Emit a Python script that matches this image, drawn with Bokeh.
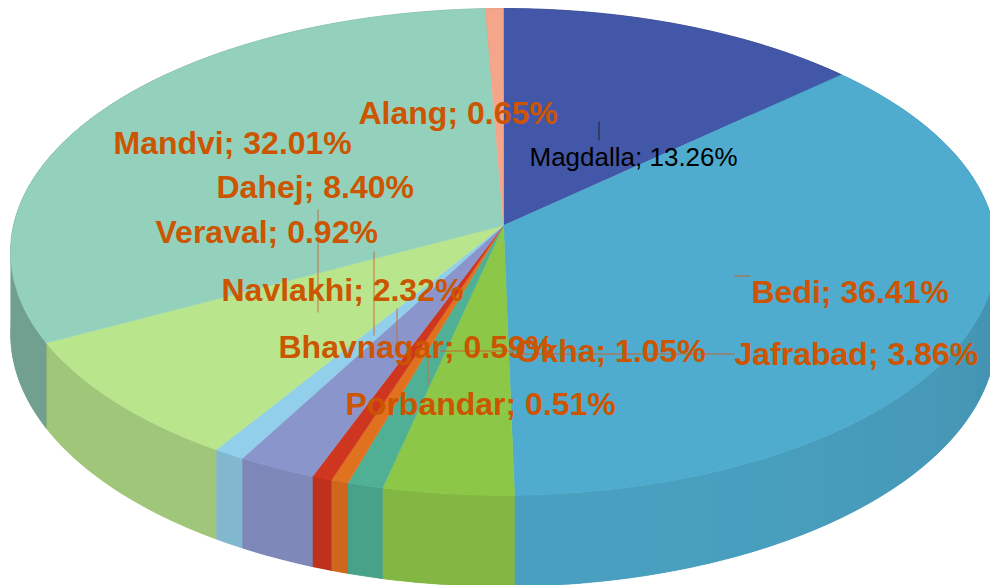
import math
from bokeh.plotting import figure
from bokeh.models import Range1d
from bokeh.core.properties import value
from bokeh.embed import file_html
from bokeh.resources import INLINE

names = ["Magdalla", "Bedi", "Jafrabad", "Okha", "Porbandar", "Bhavnagar", "Navlakhi", "Veraval", "Dahej", "Mandvi", "Alang"]
shares = [13.26, 36.41, 3.86, 1.05, 0.51, 0.59, 2.32, 0.92, 8.40, 32.01, 0.65]
colors = ["#4357A8", "#4FACCE", "#8DC748", "#4FB095", "#E0711E", "#CF361F", "#8A95CB", "#91CFEA", "#B9E58C", "#93D1BC", "#F4A58A"]

# text layout: left x, centre y
label_x = [529, 751, 734, 515, 345, 278, 221, 155, 216, 113, 358]
label_y = [156, 291, 353, 350, 403, 346, 289, 231, 186, 142, 112]
BLACK_LABEL = "Magdalla"

# leader lines: (x0, y0, x1, y1)
leaders = [
    (598.5, 121, 598.5, 140, "#222222"),
    (734, 275.5, 750, 275.5, "#C8622A"),
    (515, 353.5, 734, 353.5, "#C8622A"),
    (440, 350.5, 515, 350.5, "#C8622A"),
    (427.5, 358, 427.5, 385, "#C8703A"),
    (396.5, 308, 396.5, 345, "#C8703A"),
    (373.5, 251, 373.5, 335, "#C8703A"),
    (317.5, 209, 317.5, 312, "#C8703A"),
]

# projection of the tilted disc
CX, CY, A, B, K, DEPTH = 503.0, 225.0, 490.0, 240.6, 0.1088, 81.0


def project(theta, drop=0.0):
    u, v = math.sin(theta), -math.cos(theta)
    w = 1 - K * v
    return CX + A * u / w, CY + (B * v + drop) / w


def factor(deg):
    d = deg - 180
    if d < 0:
        return 0.93 - 0.06 * (d / 70) ** 2
    if d < 25:
        return 0.92
    if d < 35:
        return 0.92 - 0.055 * (d - 25) / 10
    if d < 62:
        return 0.865
    return 0.77


def shade(hex_color, deg):
    f = factor(deg)
    rgb = [int(hex_color[i:i + 2], 16) for i in (1, 3, 5)]
    return "#%02x%02x%02x" % tuple(min(255, int(c * f)) for c in rgb)


total = sum(shares)
edges = [0.0]
for s in shares:
    edges.append(edges[-1] + s / total * 2 * math.pi)

p = figure(width=990, height=585, output_backend="svg", toolbar_location=None,
           x_range=Range1d(0, 990), y_range=Range1d(585, 0), min_border=0,
           outline_line_color=None, background_fill_color="white", border_fill_color="white")
p.xaxis.visible = False
p.yaxis.visible = False
p.grid.visible = False


def wall(a, b):
    n = max(2, int((b - a) / math.radians(1)))
    ts = [a + (b - a) * j / n for j in range(n + 1)]
    pts = [project(t) for t in ts] + [project(t, DEPTH) for t in reversed(ts)]
    return [q[0] for q in pts], [q[1] for q in pts]


# base wall per slice
bx, by, bc = [], [], []
for i, col in enumerate(colors):
    x, y = wall(edges[i], edges[i + 1])
    bx.append(x)
    by.append(y)
    bc.append(shade(col, math.degrees((edges[i] + edges[i + 1]) / 2)))
p.patches(bx, by, fill_color=bc, line_color=bc, line_width=0.5)

# shaded facets over the base, overlapping a little so no seams show
STEP = math.radians(5)
wx, wy, wc = [], [], []
for i, col in enumerate(colors):
    a = edges[i]
    while a < edges[i + 1] - 1e-9:
        b = min(a + STEP, edges[i + 1])
        deg = math.degrees((a + b) / 2)
        if 60 < deg < 310:
            x, y = wall(a, min(b + math.radians(0.5), edges[i + 1]))
            wx.append(x)
            wy.append(y)
            wc.append(shade(col, deg))
        a = b
p.patches(wx, wy, fill_color=wc, line_color=None)

# top surface
sx, sy = [], []
for i in range(len(shares)):
    n = max(3, int((edges[i + 1] - edges[i]) / math.radians(1.5)))
    pts = [(CX, CY)] + [project(edges[i] + (edges[i + 1] - edges[i]) * j / n) for j in range(n + 1)]
    sx.append([q[0] for q in pts])
    sy.append([q[1] for q in pts])
p.patches(sx, sy, fill_color=colors, line_color=colors, line_width=0.5)

for x0, y0, x1, y1, c in leaders:
    p.line([x0, x1], [y0, y1], line_color=c, line_width=1)

# labels
for i, name in enumerate(names):
    black = name == BLACK_LABEL
    txt = f"{name}; {shares[i]:.2f}%"
    p.text([label_x[i]], [label_y[i]], text=[txt],
           text_font=value("Liberation Sans"),
           text_font_size="26px" if black else "32px",
           text_font_style="normal" if black else "bold",
           text_color="#000000" if black else "#CB5500",
           text_align="left", text_baseline="middle")

open("out.html", "w").write(file_html(p, INLINE))
